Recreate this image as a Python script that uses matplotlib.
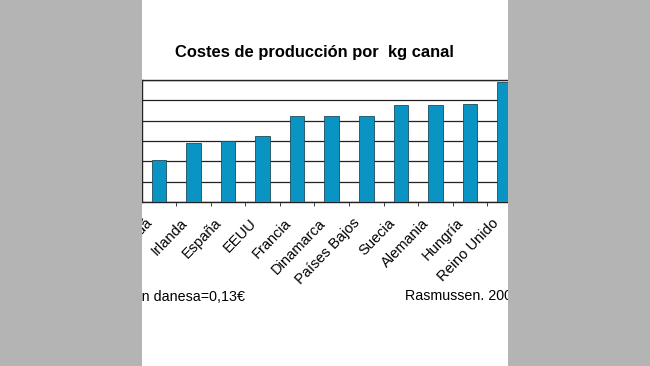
import numpy as np
import matplotlib.pyplot as plt
from matplotlib.patches import Rectangle
from matplotlib.transforms import ScaledTranslation

# datos (coste por kg canal)
paises = ['Canadá', 'Irlanda', 'España', 'EEUU', 'Francia', 'Dinamarca',
          'Países Bajos', 'Suecia', 'Alemania', 'Hungría', 'Reino Unido']
costes = [4.1, 5.8, 6.0, 6.5, 8.5, 8.5, 8.5, 9.5, 9.5, 9.6, 11.8]
y_ticks = [0, 2, 4, 6, 8, 10, 12]

plt.rcParams['font.family'] = ['Liberation Sans', 'DejaVu Sans']

W, H = 650, 366
fig = plt.figure(figsize=(6.5, 3.66), dpi=100)
fig.patch.set_facecolor('white')

ax = fig.add_axes([141.5 / W, (H - 202) / H, (522 - 141.5) / W, 122 / H])
x = np.arange(len(paises))
ax.bar(x, costes, width=0.42, color='#0a94c4', edgecolor='#1e4e5e',
       linewidth=0.6, zorder=3)

ax.set_xlim(-0.5, len(paises) - 0.5)
ax.set_ylim(0, 12)
ax.set_yticks(y_ticks)
ax.yaxis.grid(True, color='#222222', linewidth=0.9, zorder=1)
for s in ax.spines.values():
    s.set_color('#222222')
    s.set_linewidth(1.0)

ax.set_xticks(x)
ax.set_xticklabels(paises, rotation=46, ha='right', fontsize=10.5)
ax.set_xticks(x[:-1] + 0.5, minor=True)
ax.tick_params(axis='x', which='major', length=0, pad=10)
ax.tick_params(axis='x', which='minor', length=3, direction='out', color='#222222')
ax.tick_params(axis='y', length=3, labelsize=9)
desplaz = ScaledTranslation(-0.035, 0, fig.dpi_scale_trans)
for lab in ax.get_xticklabels():
    lab.set_transform(lab.get_transform() + desplaz)

fig.text(314 / W, 1 - 53 / H, 'Costes de producción por  kg canal',
         ha='center', va='center', fontsize=11.9, fontweight='bold')
fig.text(245 / W, 1 - 297 / H, 'Conversión danesa=0,13€', ha='right',
         va='center', fontsize=10.3)
fig.text(405 / W, 1 - 296 / H, 'Rasmussen. 2005', ha='left',
         va='center', fontsize=10.3)

# bandas grises a los lados (recorte de la imagen original)
gris = '#b4b4b4'
fig.patches.append(Rectangle((0, 0), 142 / W, 1, transform=fig.transFigure,
                             facecolor=gris, edgecolor='none', zorder=10))
fig.patches.append(Rectangle((508 / W, 0), 142 / W, 1, transform=fig.transFigure,
                             facecolor=gris, edgecolor='none', zorder=10))

fig.savefig('out.png', dpi=100)
